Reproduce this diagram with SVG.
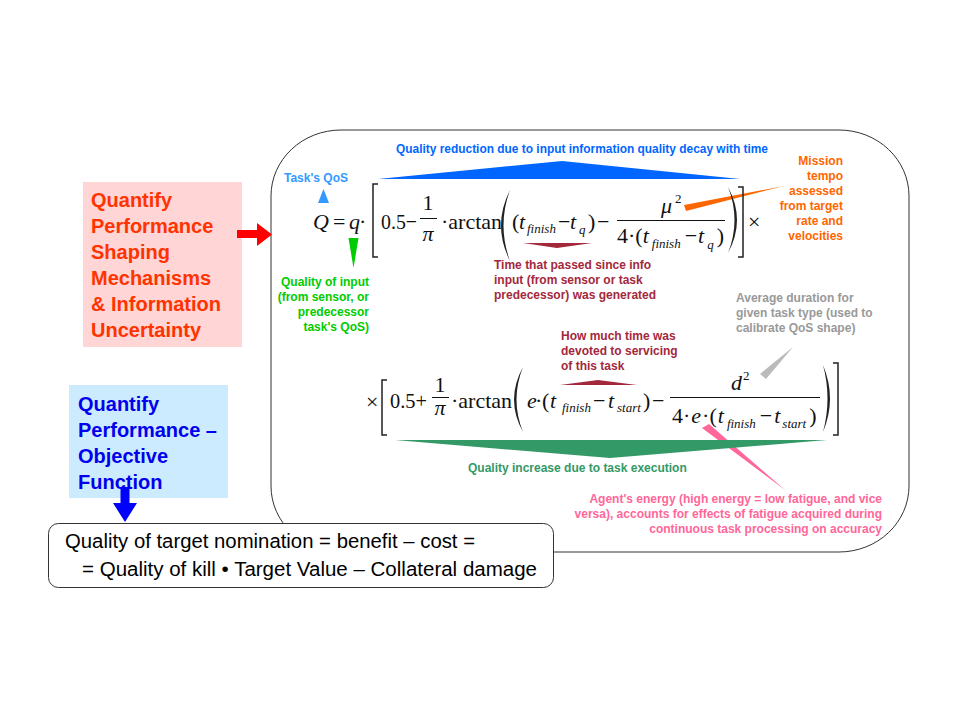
<svg xmlns="http://www.w3.org/2000/svg" width="960" height="720" viewBox="0 0 960 720">
<style>
.m{font-family:"Liberation Serif","Times New Roman",serif;font-size:22px;fill:#111}
.i{font-style:italic}
.s{font-size:13px;font-style:italic}
.sp{font-size:13px;font-style:normal}
.l{font-family:"Liberation Sans",Arial,sans-serif;font-weight:bold;font-size:12px}
.big{font-family:"Liberation Sans",Arial,sans-serif;font-weight:bold;font-size:20px}
.reg{font-family:"Liberation Sans",Arial,sans-serif;font-size:20px;fill:#000}
.fl{stroke:#111;stroke-width:1}
.br{fill:none;stroke:#222;stroke-width:1.5}
.pr{fill:#222}
.dr{fill:#A3283C}
</style>
<rect width="960" height="720" fill="#fff"/>
<g id="formula-frame">
<rect x="271" y="130" width="638" height="422" rx="70" ry="66" fill="#fff" stroke="#333" stroke-width="1"/>
</g>
<g id="objective-box">
<rect x="48.5" y="523.5" width="505" height="64" rx="10" fill="#fff" stroke="#333" stroke-width="1"/>
<text class="reg" x="65" y="548" textLength="410" lengthAdjust="spacingAndGlyphs">Quality of target nomination = benefit – cost =</text>
<text class="reg" x="82" y="576" textLength="455" lengthAdjust="spacingAndGlyphs">= Quality of kill • Target Value – Collateral damage</text>
</g>
<g id="shaping-box">
<rect x="83" y="182" width="159" height="165" fill="#FFD5D5"/>
<text class="big" fill="#FF3300"><tspan x="91" y="207">Quantify</tspan><tspan x="91" y="233">Performance</tspan><tspan x="91" y="259">Shaping</tspan><tspan x="91" y="285">Mechanisms</tspan><tspan x="91" y="311">&amp; Information</tspan><tspan x="91" y="337">Uncertainty</tspan></text>
</g>
<g id="objective-label-box">
<rect x="69" y="385" width="159" height="113" fill="#CCEBFF"/>
<text class="big" fill="#0000EE"><tspan x="78" y="411">Quantify</tspan><tspan x="78" y="437">Performance –</tspan><tspan x="78" y="463">Objective</tspan><tspan x="78" y="489">Function</tspan></text>
</g>
<g id="connectors">
<polygon points="237,230 257,230 257,223 272,234.5 257,246 257,238 237,238" fill="#FF0000"/>
<polygon points="120.5,487 129.5,487 129.5,503 137,503 125,522 113,503 120.5,503" fill="#0000FF"/>
<polygon points="684,205 686,211 784,186" fill="#FF6600"/>
<polygon points="760,374 766,379 793,347" fill="#BBBBBB"/>
<polygon points="702,428 709,424 785,490" fill="#FF6699"/>
</g>
<g id="formula-top">
<text class="l" x="396" y="153" fill="#0066FF" textLength="372" lengthAdjust="spacingAndGlyphs">Quality reduction due to input information quality decay with time</text>
<polygon points="378,179 562,161 740,179" fill="#0066FF"/>
<text class="l" x="284" y="182" fill="#3399FF">Task's QoS</text>
<polygon points="318,203 329,203 323.5,189" fill="#3399FF"/>
<polygon points="348.5,238 358.5,238 353.5,268" fill="#00CC00"/>
<text class="l" fill="#00CC00" text-anchor="end"><tspan x="369" y="286">Quality of input</tspan><tspan x="369" y="301">(from sensor, or</tspan><tspan x="369" y="316">predecessor</tspan><tspan x="369" y="331">task's QoS)</tspan></text>
<text class="m" y="229"><tspan x="313" class="i">Q</tspan><tspan x="333">=</tspan><tspan x="349" class="i">q</tspan><tspan x="359">·</tspan></text>
<path class="br" d="M378,184 H373 V257 H378"/>
<text class="m" x="381" y="229" textLength="36" lengthAdjust="spacingAndGlyphs">0.5−</text>
<text class="m" x="428" y="210" text-anchor="middle">1</text>
<line class="fl" x1="420" y1="218.5" x2="437" y2="218.5"/>
<text class="m i" x="428" y="241" text-anchor="middle">π</text>
<text class="m" x="441" y="229">·arctan</text>
<path class="pr" d="M510,190 Q492,225.5 510,261 Q497,225.5 510,190 Z"/>
<text class="m" y="229"><tspan x="512">(</tspan><tspan x="519" class="i">t</tspan><tspan x="527" y="233" class="s">finish</tspan><tspan x="558" y="229">−</tspan><tspan x="570" class="i">t</tspan><tspan x="579" y="234" class="s">q</tspan><tspan x="588" y="229">)</tspan><tspan x="597">−</tspan></text>
<polygon class="dr" points="523,243 592,243 557,248"/>
<text class="m" y="213"><tspan x="661" class="i">μ</tspan><tspan x="675" y="203" class="sp">2</tspan></text>
<line class="fl" x1="617" y1="220.5" x2="725" y2="220.5"/>
<text class="m" x="617" y="243">4·(<tspan class="i">t</tspan><tspan dx="3" dy="5" class="s" font-size="15">finish</tspan><tspan dx="4" dy="-5">−</tspan><tspan dx="1" class="i">t</tspan><tspan dx="3" dy="6" class="s">q</tspan><tspan dx="3" dy="-6">)</tspan></text>
<path class="pr" d="M728,187 Q746,220 728,253 Q741,220 728,187 Z"/>
<path class="br" d="M738,187 H743 V257 H738"/>
<text class="m" x="748" y="229">×</text>
<text class="l" fill="#FF6600" text-anchor="end"><tspan x="843" y="165">Mission</tspan><tspan x="843" y="180">tempo</tspan><tspan x="843" y="195">assessed</tspan><tspan x="843" y="210">from target</tspan><tspan x="843" y="225">rate and</tspan><tspan x="843" y="240">velocities</tspan></text>
<text class="l" fill="#A3283C"><tspan x="494" y="269">Time that passed since info</tspan><tspan x="494" y="284">input (from sensor or task</tspan><tspan x="494" y="299">predecessor) was generated</tspan></text>
</g>
<g id="formula-bottom">
<text class="l" fill="#999999"><tspan x="736" y="302">Average duration for</tspan><tspan x="736" y="317">given task type (used to</tspan><tspan x="736" y="332">calibrate QoS shape)</tspan></text>
<text class="l" fill="#A3283C"><tspan x="561" y="340">How much time was</tspan><tspan x="561" y="355">devoted to servicing</tspan><tspan x="561" y="370">of this task</tspan></text>
<polygon class="dr" points="560,385 598,380 637,385"/>
<text class="m" x="366" y="409">×</text>
<path class="br" d="M387,380 H382 V435 H387"/>
<text class="m" x="390" y="408" textLength="37" lengthAdjust="spacingAndGlyphs">0.5+</text>
<text class="m" x="440" y="392" text-anchor="middle">1</text>
<line class="fl" x1="432" y1="397.5" x2="449" y2="397.5"/>
<text class="m i" x="440" y="415" text-anchor="middle">π</text>
<text class="m" x="451" y="408">·arctan</text>
<path class="pr" d="M523,367 Q505,399.5 523,432 Q510,399.5 523,367 Z"/>
<text class="m" y="408"><tspan x="527" class="i">e</tspan><tspan x="535">·</tspan><tspan x="542">(</tspan><tspan x="550" class="i">t</tspan><tspan x="562" y="412" class="s">finish</tspan><tspan x="593" y="408">−</tspan><tspan x="608" class="i">t</tspan><tspan x="617" y="412" class="s">start</tspan><tspan x="643" y="408">)</tspan><tspan x="652">−</tspan></text>
<text class="m" y="390"><tspan x="731" class="i">d</tspan><tspan x="743" y="380" class="sp">2</tspan></text>
<line class="fl" x1="670" y1="397.5" x2="820" y2="397.5"/>
<text class="m" x="672" y="423">4·<tspan dx="1" class="i">e</tspan><tspan dx="1">·(</tspan><tspan dx="1" class="i">t</tspan><tspan dx="3" dy="5" class="s">finish</tspan><tspan dx="4" dy="-5">−</tspan><tspan dx="2" class="i">t</tspan><tspan dx="2" dy="5" class="s">start</tspan><tspan dx="3" dy="-5">)</tspan></text>
<path class="pr" d="M823,365 Q837,398.5 823,432 Q832,398.5 823,365 Z"/>
<path class="br" d="M833,363 H838 V435 H833"/>
<polygon points="395,440 827,440 610,458" fill="#339966"/>
<text class="l" x="468" y="472" fill="#339966">Quality increase due to task execution</text>
<text class="l" fill="#FF6699" text-anchor="end"><tspan x="882" y="503">Agent's energy (high energy = low fatigue, and vice</tspan><tspan x="882" y="518">versa), accounts for effects of fatigue acquired during</tspan><tspan x="882" y="533">continuous task processing on accuracy</tspan></text>
</g>
</svg>
